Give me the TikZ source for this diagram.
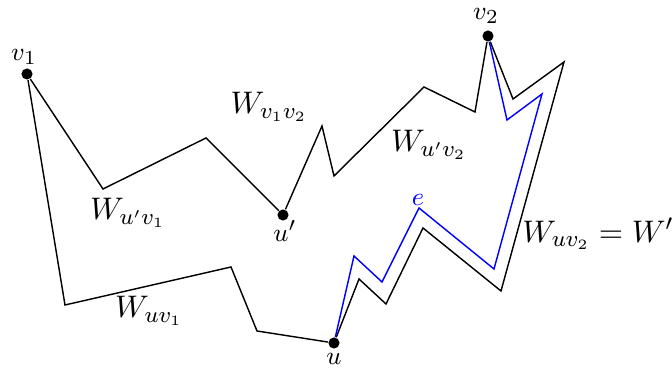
\documentclass[tikz,border=0pt]{standalone}
\usepackage{amsmath,amssymb}
\usepackage{xcolor}
\usepackage{tikz}

\begin{document}
\begin{tikzpicture}[
  x=0.01233cm, y=-0.01233cm,
  vertex/.style={circle, fill, inner sep=0pt, minimum size=3.9pt},
  walk/.style={line width=0.5pt, line join=miter},
  vlabel/.style={font=\fontsize{9.5}{11}\selectfont},
  wlabel/.style={font=\fontsize{11}{13}\selectfont}
]
\useasboundingbox (0,0) rectangle (672,373);

% Vertices
\node[vertex] (v1) at (27,74) {};
\node[vertex] (v2) at (488,36) {};
\node[vertex] (up) at (283,215) {};
\node[vertex] (u) at (334,343) {};

\node[vlabel] (v1lbl) at (24,57) {$v_1$};
\node[vlabel] (v2lbl) at (486,16) {$v_2$};
\node[vlabel] (uplbl) at (285,231) {$u'$};
\node[vlabel] (ulbl) at (334,359) {$u$};

% Walks
\draw[walk] (v1) -- (103,189) -- (206,138) -- (up);
\draw[walk] (up) -- (322,126) -- (334,176) -- (424,87) -- (475,112) -- (v2);
\draw[walk] (v2) -- (513,99) -- (564,62) -- (501,291) -- (423,228) -- (386,304) -- (359,279) -- (u);
\draw[walk] (u) -- (257,331) -- (231,267) -- (65,305) -- (v1);
\draw[walk, blue] (v2) -- (507,120) -- (542,94) -- (494,269) -- (419,208) -- (382,282) -- (354,256) -- (u);

% Walk labels
\node[wlabel] (wv1v2) at (269,107) {$W_{v_1v_2}$};
\node[wlabel] (wupv2) at (429,145) {$W_{u'v_2}$};
\node[wlabel] (wupv1) at (128,213) {$W_{u'v_1}$};
\node[wlabel] (wuv1) at (149,311) {$W_{uv_1}$};
\node[wlabel] (wuv2) at (598,234) {$W_{uv_2}=W'$};
\node[vlabel, blue] (elbl) at (418,200) {$e$};

\end{tikzpicture}
\end{document}
